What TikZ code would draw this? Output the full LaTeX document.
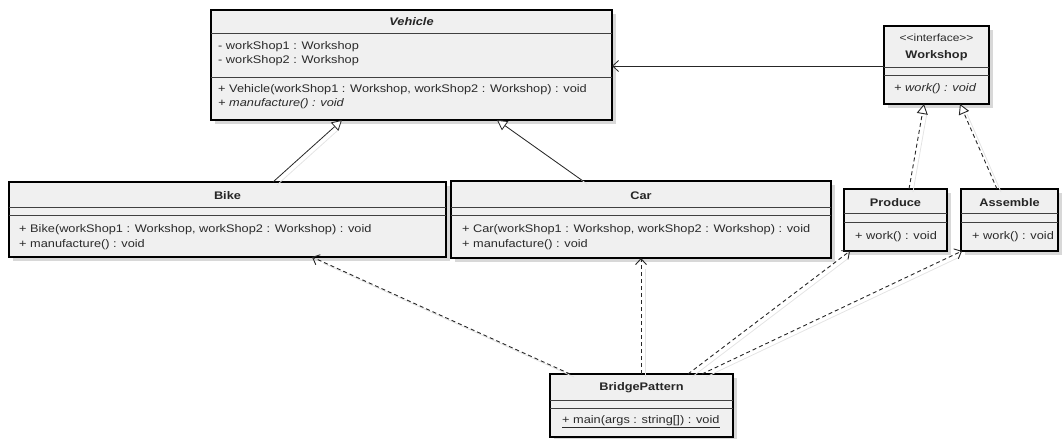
\documentclass[tikz,border=0pt]{standalone}
\usepackage{fontspec}
\setmainfont{Liberation Sans}[FakeStretch=1.16]
\usetikzlibrary{arrows.meta,calc}
\definecolor{txt}{HTML}{2A2A2A}
\definecolor{boxfill}{HTML}{F0F0F0}
\definecolor{shade}{HTML}{D8D8D8}
\definecolor{linkshade}{HTML}{E4E4E4}
\tikzset{
  cls/.style={draw=black, line width=1.6pt, fill=boxfill, inner sep=0pt, outer sep=0pt},
  clsshadow/.style={fill=shade, draw=none},
  divider/.style={draw=black!75, line width=0.8pt},
  title/.style={anchor=center, inner sep=0pt, font=\fontsize{11}{13}\selectfont\bfseries, text=black!85},
  member/.style={anchor=west, inner sep=0pt, font=\fontsize{11}{13}\selectfont, text=txt},
  stereo/.style={anchor=center, inner sep=0pt, font=\fontsize{10.3}{12}\selectfont, text=txt},
  generalize/.style={draw=black!85, line width=0.8pt, -{Triangle[open, length=10pt, width=11pt, fill=white]}},
  realize/.style={draw=black!85, line width=0.9pt, dash pattern=on 4pt off 3pt, -{Triangle[open, length=10pt, width=11pt, fill=white]}},
  depend/.style={draw=black!85, line width=0.9pt, dash pattern=on 4pt off 3pt, -{Straight Barb[length=6pt, width=11pt]}},
  assoc/.style={draw=black!85, line width=0.8pt, -{Straight Barb[length=6pt, width=11pt]}},
  linkshadow/.style={draw=linkshade, line width=0.8pt, shorten >=8pt, transform canvas={xshift=4pt, yshift=-3pt}},
}
\newcommand{\classbox}[5]{% name, center x, center y, width, height
  \fill[clsshadow] (#2-#4/2+4,#3-#5/2+4) rectangle (#2+#4/2+4,#3+#5/2+4);
  \node[cls, minimum width=#4pt, minimum height=#5pt] (#1) at (#2,#3) {};
}
\begin{document}
\begin{tikzpicture}[x=1pt,y=-1pt]
\useasboundingbox (0,0) rectangle (1063,439);

% class boxes
\classbox{vehicle}{411.5}{65}{401}{110}
\classbox{workshop}{936.5}{65}{105}{78}
\classbox{bike}{227.5}{219.5}{437}{75}
\classbox{car}{641}{219.5}{380}{77}
\classbox{produce}{895.5}{220}{103}{62}
\classbox{assemble}{1009.5}{220}{97}{62}
\classbox{bridge}{641.5}{405.5}{183}{63}

% compartment dividers
\draw[divider] (vehicle.west |- 0,33) -- (vehicle.east |- 0,33);
\draw[divider] (vehicle.west |- 0,77) -- (vehicle.east |- 0,77);
\draw[divider] (workshop.west |- 0,67) -- (workshop.east |- 0,67);
\draw[divider] (workshop.west |- 0,75) -- (workshop.east |- 0,75);
\draw[divider] (bike.west |- 0,207) -- (bike.east |- 0,207);
\draw[divider] (bike.west |- 0,215) -- (bike.east |- 0,215);
\draw[divider] (car.west |- 0,207) -- (car.east |- 0,207);
\draw[divider] (car.west |- 0,215) -- (car.east |- 0,215);
\draw[divider] (produce.west |- 0,213) -- (produce.east |- 0,213);
\draw[divider] (produce.west |- 0,222) -- (produce.east |- 0,222);
\draw[divider] (assemble.west |- 0,213) -- (assemble.east |- 0,213);
\draw[divider] (assemble.west |- 0,222) -- (assemble.east |- 0,222);
\draw[divider] (bridge.west |- 0,400) -- (bridge.east |- 0,400);
\draw[divider] (bridge.west |- 0,408) -- (bridge.east |- 0,408);

% Vehicle
\node[title, font=\fontsize{11}{13}\selectfont\bfseries\itshape] (vehicleT) at (411.5,22) {Vehicle};
\node[member] (vehicleA1) at (218,47) {- workShop1 : Workshop};
\node[member] (vehicleA2) at (218,61) {- workShop2 : Workshop};
\node[member] (vehicleM1) at (218,90) {+ Vehicle(workShop1 : Workshop, workShop2 : Workshop) : void};
\node[member] (vehicleM2) at (218,104) {\itshape + manufacture() : void};

% Workshop
\node[stereo] (workshopS) at (936.5,38) {<{}<interface>{}>};
\node[title] (workshopT) at (936.5,56) {Workshop};
\node[member] (workshopM1) at (894,89) {\itshape + work() : void};

% Bike
\node[title] (bikeT) at (227.5,196) {Bike};
\node[member] (bikeM1) at (19,230) {+ Bike(workShop1 : Workshop, workShop2 : Workshop) : void};
\node[member] (bikeM2) at (19,245) {+ manufacture() : void};

% Car
\node[title] (carT) at (641,196) {Car};
\node[member] (carM1) at (462,230) {+ Car(workShop1 : Workshop, workShop2 : Workshop) : void};
\node[member] (carM2) at (462,245) {+ manufacture() : void};

% Produce
\node[title] (produceT) at (895.5,203) {Produce};
\node[member] (produceM1) at (855,237) {+ work() : void};

% Assemble
\node[title] (assembleT) at (1009.5,203) {Assemble};
\node[member] (assembleM1) at (972,237) {+ work() : void};

% BridgePattern
\node[title] (bridgeT) at (641.5,388) {BridgePattern};
\node[member] (bridgeM1) at (562,422) {\underline{+ main(args : string[]) : void}};

% faint shadows under the connectors
\begin{scope}
\draw[linkshadow] ([xshift=264pt]bike.north west) -- ([xshift=131pt]vehicle.south west);
\draw[linkshadow] ([xshift=132pt]car.north west) -- ([xshift=286pt]vehicle.south west);
\draw[linkshadow] ([xshift=65pt]produce.north west) -- ([xshift=40pt]workshop.south west);
\draw[linkshadow] ([xshift=36pt]assemble.north west) -- ([xshift=76pt]workshop.south west);
\draw[linkshadow] ([xshift=20pt]bridge.north west) -- ([xshift=303pt]bike.south west);
\draw[linkshadow] ([xshift=91pt]bridge.north west) -- ([xshift=190pt]car.south west);
\draw[linkshadow] ([xshift=138pt]bridge.north west) -- ([xshift=6pt]produce.south west);
\draw[linkshadow] ([xshift=152pt]bridge.north west) -- ([xshift=1pt]assemble.south west);
\end{scope}

% association
\draw[assoc] ([yshift=-1pt]workshop.west) -- ([yshift=-1pt]vehicle.east);

% generalization
\draw[generalize] ([xshift=264pt]bike.north west) -- ([xshift=131pt]vehicle.south west);
\draw[generalize] ([xshift=132pt]car.north west) -- ([xshift=286pt]vehicle.south west);

% realization
\draw[realize] ([xshift=65pt]produce.north west) -- ([xshift=40pt]workshop.south west);
\draw[realize] ([xshift=36pt]assemble.north west) -- ([xshift=76pt]workshop.south west);

% dependencies
\draw[depend] ([xshift=20pt]bridge.north west) -- ([xshift=303pt]bike.south west);
\draw[depend] ([xshift=91pt]bridge.north west) -- ([xshift=190pt]car.south west);
\draw[depend] ([xshift=138pt]bridge.north west) -- ([xshift=6pt]produce.south west);
\draw[depend] ([xshift=152pt]bridge.north west) -- ([xshift=1pt]assemble.south west);
\end{tikzpicture}
\end{document}
